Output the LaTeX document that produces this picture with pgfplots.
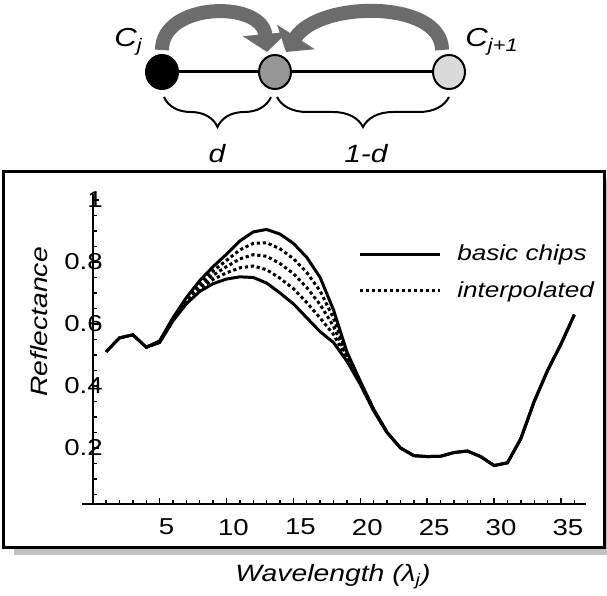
\documentclass[border=0pt]{standalone}
\usepackage{fontspec}
\setmainfont{Liberation Sans}[FakeStretch=1.2]
\usepackage{pgfplots}
\pgfplotsset{compat=1.18}
\usetikzlibrary{arrows.meta,decorations.pathreplacing}
\definecolor{arrowgray}{RGB}{108,108,108}
\definecolor{shadowgray}{RGB}{192,192,192}
\definecolor{midgray}{RGB}{150,150,150}
\definecolor{lightgray}{RGB}{218,218,218}

\begin{document}
\begin{tikzpicture}[font=\fontsize{11.5pt}{13pt}\selectfont]
\useasboundingbox (0pt,0pt) rectangle (303.5pt,298pt);

% frame with shadow
\fill[shadowgray] (7pt,20.5pt) rectangle (308pt,208.5pt);
\draw[line width=1.5pt, fill=white] (2pt,24pt) rectangle (302pt,212pt);

% interpolation diagram
\draw[arrowgray, line width=7pt, -{Triangle[width=22pt,length=9pt]}]
  (81pt,273pt) .. controls (81pt,297pt) and (131pt,298pt) .. (133.5pt,272pt);
\draw[arrowgray, line width=7pt, -{Triangle[width=22pt,length=9pt]}]
  (221pt,273pt) .. controls (221pt,298pt) and (160pt,298pt) .. (143pt,272pt);
\draw[line width=1.5pt] (81pt,262pt) -- (224.5pt,262pt);
\draw[line width=1pt, fill=black] (81pt,262pt) ellipse [x radius=8pt, y radius=8.5pt];
\draw[line width=1pt, fill=midgray] (137.5pt,262pt) ellipse [x radius=8pt, y radius=8.5pt];
\draw[line width=1pt, fill=lightgray] (224.5pt,262pt) ellipse [x radius=8pt, y radius=8.5pt];
\draw[line width=1pt, decorate, decoration={brace, mirror, amplitude=15pt}]
  (82pt,249.5pt) -- (135.5pt,249.5pt);
\draw[line width=1pt, decorate, decoration={brace, mirror, amplitude=15pt}]
  (138.5pt,249.5pt) -- (224.5pt,249.5pt);
\node[anchor=base, font=\fontsize{12.5pt}{14pt}\selectfont\itshape] at (108.5pt,216.5pt) {d};
\node[anchor=base, font=\fontsize{12.5pt}{14pt}\selectfont\itshape] at (183pt,216.5pt) {1-d};
\node[anchor=base west, inner sep=0pt, font=\fontsize{13pt}{15pt}\selectfont\itshape] at (57pt,274.5pt) {C\textsubscript{j}};
\node[anchor=base west, inner sep=0pt, font=\fontsize{13pt}{15pt}\selectfont\itshape] at (232.5pt,274.5pt) {C\textsubscript{j+1}};

% axis titles
\node[rotate=90, anchor=base, font=\fontsize{11.8pt}{14pt}\selectfont\itshape] at (23.5pt,137pt) {Reflectance};
\node[anchor=base, font=\fontsize{11.8pt}{14pt}\selectfont\itshape] at (166.5pt,7pt) {Wavelength (λ\textsubscript{j})};

\begin{axis}[
  at={(41pt,46pt)}, anchor=south west,
  scale only axis, width=252.2pt, height=155.1pt,
  xmin=-0.8, xmax=36.9, ymin=0.019, ymax=1.02,
  axis x line=bottom, axis y line=middle,
  axis line style={-, line width=0.9pt},
  xtick={5,10,15,20,25,30,35},
  ytick={0.2,0.4,0.6,0.8,1},
  yticklabels={0.2,0.4,0.6,0.8,1},
  minor xtick={1,2,...,36},
  minor ytick={0.05,0.1,...,1.0},
  tick align=inside, major tick length=3pt, minor tick length=2pt,
  tick style={line width=0.7pt, black},
  ticklabel style={font=\fontsize{11.5pt}{13pt}\selectfont},
  xticklabel style={yshift=-4pt, xshift=3.5pt},
  yticklabel style={xshift=8.5pt},
  /pgf/number format/assume math mode=true,
  legend style={draw=none, fill=none, at={(0.535,0.746)}, anchor=west,
    font=\fontsize{10.9pt}{12pt}\selectfont\itshape, row sep=5pt},
  legend cell align=left,
  legend image code/.code={\draw[#1] (0pt,0pt) -- (40pt,0pt); \path (46pt,0pt);},
]
% basic chip (upper)
\addplot[black, line width=1.5pt] table {
x y
1 0.51
2 0.555
3 0.565
4 0.525
5 0.545
6 0.62
7 0.685
8 0.74
9 0.785
10 0.825
11 0.868
12 0.897
13 0.905
14 0.89
15 0.86
16 0.815
17 0.75
18 0.645
19 0.51
20 0.415
21 0.325
22 0.25
23 0.20
24 0.175
25 0.172
26 0.173
27 0.185
28 0.19
29 0.172
30 0.143
31 0.152
32 0.23
33 0.35
34 0.45
35 0.535
36 0.63
};
\addlegendentry{basic chips}
% interpolated
\addplot[black, line width=1.5pt, dash pattern=on 1.6pt off 1.4pt] table {
x y
4 0.525
5 0.541
6 0.6125
7 0.67
8 0.714
9 0.744
10 0.765
11 0.781
12 0.787
13 0.775
14 0.7475
15 0.714
16 0.669
17 0.619
18 0.566
19 0.488
20 0.4075
21 0.321
22 0.25
};
\addlegendentry{interpolated}
\addplot[black, line width=1.5pt, dash pattern=on 1.6pt off 1.4pt, forget plot] table {
x y
4 0.525
5 0.5425
6 0.615
7 0.675
8 0.7225
9 0.7575
10 0.785
11 0.81
12 0.8235
13 0.8185
14 0.795
15 0.7625
16 0.7175
17 0.6625
18 0.5925
19 0.495
20 0.41
21 0.3225
22 0.25
};
\addplot[black, line width=1.5pt, dash pattern=on 1.6pt off 1.4pt, forget plot] table {
x y
4 0.525
5 0.544
6 0.6175
7 0.68
8 0.731
9 0.771
10 0.805
11 0.839
12 0.86
13 0.862
14 0.8425
15 0.811
16 0.766
17 0.706
18 0.619
19 0.503
20 0.4125
21 0.324
22 0.25
};
% basic chip (lower)
\addplot[black, line width=1.5pt, forget plot] table {
x y
1 0.51
2 0.555
3 0.565
4 0.525
5 0.54
6 0.61
7 0.665
8 0.705
9 0.73
10 0.745
11 0.752
12 0.75
13 0.732
14 0.70
15 0.665
16 0.62
17 0.575
18 0.54
19 0.48
20 0.405
21 0.32
22 0.25
23 0.20
24 0.175
25 0.172
26 0.173
27 0.185
28 0.19
29 0.172
30 0.143
31 0.152
32 0.23
33 0.35
34 0.45
35 0.535
36 0.63
};
\end{axis}
\end{tikzpicture}
\end{document}
